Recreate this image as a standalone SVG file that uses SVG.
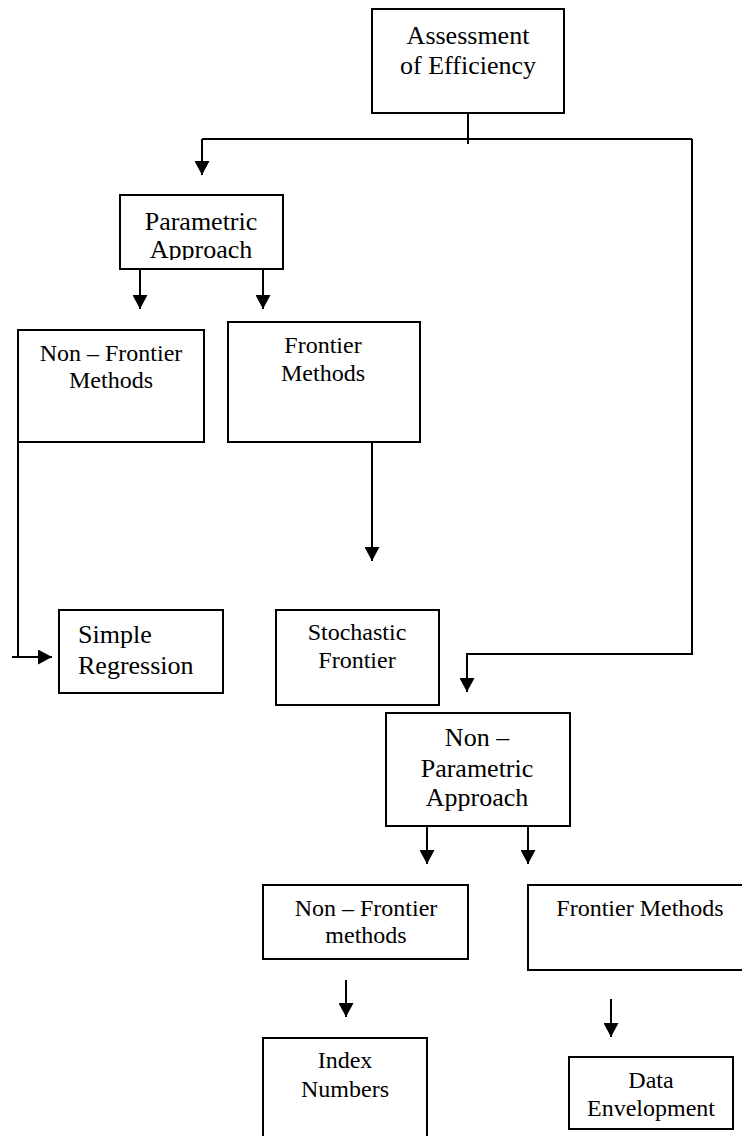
<svg xmlns="http://www.w3.org/2000/svg" width="742" height="1136" viewBox="0 0 742 1136">
  <style>
    .box { fill: #ffffff; stroke: #000000; stroke-width: 2; }
    .wire { fill: none; stroke: #000000; stroke-width: 2; }
    text { font-family: 'Liberation Serif', 'DejaVu Serif', 'Times New Roman', serif; fill: #000000; }
    .lg { font-size: 26px; }
    .md { font-size: 24px; }
    .c { text-anchor: middle; }
  </style>
  <defs>
    <marker id="arrow" markerUnits="userSpaceOnUse" markerWidth="15" markerHeight="15" refX="14" refY="7.5" orient="auto">
      <path d="M0,0 L14,7.5 L0,15 Z" fill="#000000"/>
    </marker>
    <clipPath id="paramClip">
      <rect x="121" y="196" width="161" height="64"/>
    </clipPath>
  </defs>
  <rect width="742" height="1136" fill="#ffffff"/>

  <!-- connectors -->
  <g id="connectors">
    <line class="wire" x1="468" y1="105" x2="468" y2="144"/>
    <line class="wire" x1="202" y1="139" x2="692" y2="139"/>
    <line class="wire" x1="202" y1="139" x2="202" y2="175" marker-end="url(#arrow)"/>
    <polyline class="wire" points="692,139 692,654 467,654 467,692" marker-end="url(#arrow)"/>
    <line class="wire" x1="140" y1="269" x2="140" y2="309" marker-end="url(#arrow)"/>
    <line class="wire" x1="263" y1="269" x2="263" y2="309" marker-end="url(#arrow)"/>
    <line class="wire" x1="18" y1="442" x2="18" y2="657"/>
    <line class="wire" x1="12" y1="657" x2="52" y2="657" marker-end="url(#arrow)"/>
    <line class="wire" x1="372" y1="442" x2="372" y2="561" marker-end="url(#arrow)"/>
    <line class="wire" x1="427" y1="826" x2="427" y2="864" marker-end="url(#arrow)"/>
    <line class="wire" x1="528" y1="826" x2="528" y2="864" marker-end="url(#arrow)"/>
    <line class="wire" x1="346" y1="980" x2="346" y2="1017" marker-end="url(#arrow)"/>
    <line class="wire" x1="611" y1="999" x2="611" y2="1037" marker-end="url(#arrow)"/>
  </g>

  <g id="assessment">
    <rect class="box" x="372" y="9" width="192" height="104"/>
    <text class="lg c" x="468" y="44" font-family="Liberation Serif, serif">Assessment</text>
    <text class="lg c" x="468" y="74" font-family="Liberation Serif, serif">of Efficiency</text>
  </g>

  <g id="parametric">
    <rect class="box" x="120" y="195" width="163" height="74"/>
    <g clip-path="url(#paramClip)">
      <text class="lg c" x="201" y="230">Parametric</text>
      <text class="lg c" x="201" y="258">Approach</text>
    </g>
  </g>

  <g id="param-non-frontier">
    <rect class="box" x="18" y="330" width="186" height="112"/>
    <text class="md c" x="111" y="361">Non – Frontier</text>
    <text class="md c" x="111" y="388">Methods</text>
  </g>

  <g id="param-frontier">
    <rect class="box" x="228" y="322" width="192" height="120"/>
    <text class="md c" x="323" y="353">Frontier</text>
    <text class="md c" x="323" y="381">Methods</text>
  </g>

  <g id="simple-regression">
    <rect class="box" x="59" y="610" width="164" height="83"/>
    <text class="lg" x="78" y="643">Simple</text>
    <text class="lg" x="78" y="674">Regression</text>
  </g>

  <g id="stochastic-frontier">
    <rect class="box" x="276" y="610" width="163" height="95"/>
    <text class="md c" x="357" y="640">Stochastic</text>
    <text class="md c" x="357" y="668">Frontier</text>
  </g>

  <g id="non-parametric">
    <rect class="box" x="386" y="713" width="184" height="113"/>
    <text class="lg c" x="477" y="746">Non –</text>
    <text class="lg c" x="477" y="777">Parametric</text>
    <text class="lg c" x="477" y="806">Approach</text>
  </g>

  <g id="nonparam-non-frontier">
    <rect class="box" x="263" y="885" width="205" height="74"/>
    <text class="md c" x="366" y="916">Non – Frontier</text>
    <text class="md c" x="366" y="943">methods</text>
  </g>

  <g id="nonparam-frontier">
    <rect class="box" x="528" y="885" width="220" height="85"/>
    <text class="md c" x="640" y="916">Frontier Methods</text>
  </g>

  <g id="index-numbers">
    <rect class="box" x="263" y="1038" width="164" height="120"/>
    <text class="md c" x="345" y="1068">Index</text>
    <text class="md c" x="345" y="1097">Numbers</text>
  </g>

  <g id="data-envelopment">
    <rect class="box" x="569" y="1057" width="164" height="72"/>
    <text class="md c" x="651" y="1088">Data</text>
    <text class="md c" x="651" y="1116">Envelopment</text>
  </g>
</svg>
